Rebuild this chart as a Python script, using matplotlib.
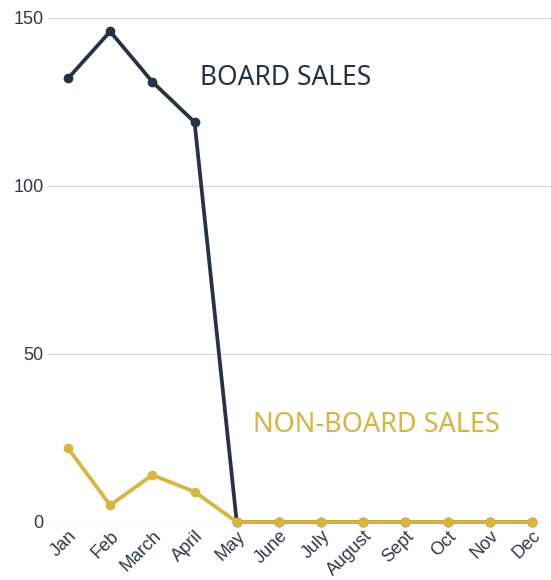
import matplotlib
matplotlib.use("Agg")
import matplotlib.pyplot as plt

months = ["Jan", "Feb", "March", "April", "May", "June", "July", "August",
          "Sept", "Oct", "Nov", "Dec"]
board_sales = [132, 146, 131, 119, 0, 0, 0, 0, 0, 0, 0, 0]
non_board_sales = [22, 5, 14, 9, 0, 0, 0, 0, 0, 0, 0, 0]
y_ticks = [0, 50, 100, 150]

NAVY = "#253347"
GOLD = "#D8B541"
TICK = "#2e3a4c"

fig = plt.figure(figsize=(5.51, 5.8), dpi=100)
ax = fig.add_axes([48/551, 58/580, 1 - 48/551, (522-18)/580])

x = list(range(len(months)))
ax.plot(x, board_sales, color=NAVY, lw=2.7, marker="o", ms=6, clip_on=False, zorder=3)
ax.plot(x, non_board_sales, color=GOLD, lw=2.7, marker="o", ms=6, clip_on=False, zorder=4)

ax.set_xlim(-0.474, 11.45)
ax.set_ylim(0, 150)
ax.set_yticks(y_ticks)
ax.set_xticks(x)
ax.set_xticklabels(months, rotation=45, ha="right", rotation_mode="anchor")
ax.grid(axis="y", color="#d9d9d9", lw=1)
ax.set_axisbelow(True)
for s in ax.spines.values():
    s.set_visible(False)
ax.tick_params(axis="both", length=0, labelsize=13, colors=TICK)
ax.tick_params(axis="y", pad=3)
ax.tick_params(axis="x", pad=4)
for lab in ax.get_xticklabels() + ax.get_yticklabels():
    lab.set_family("Liberation Sans")

ax.text(3.13, 132.2, "BOARD SALES", color=NAVY, fontsize=19, family="Noto Sans",
        fontweight="medium", va="center", ha="left")
ax.text(4.39, 29.0, "NON-BOARD SALES", color=GOLD, fontsize=19.5, family="Noto Sans",
        fontweight="medium", va="center", ha="left")

fig.savefig("out.png", dpi=100)
